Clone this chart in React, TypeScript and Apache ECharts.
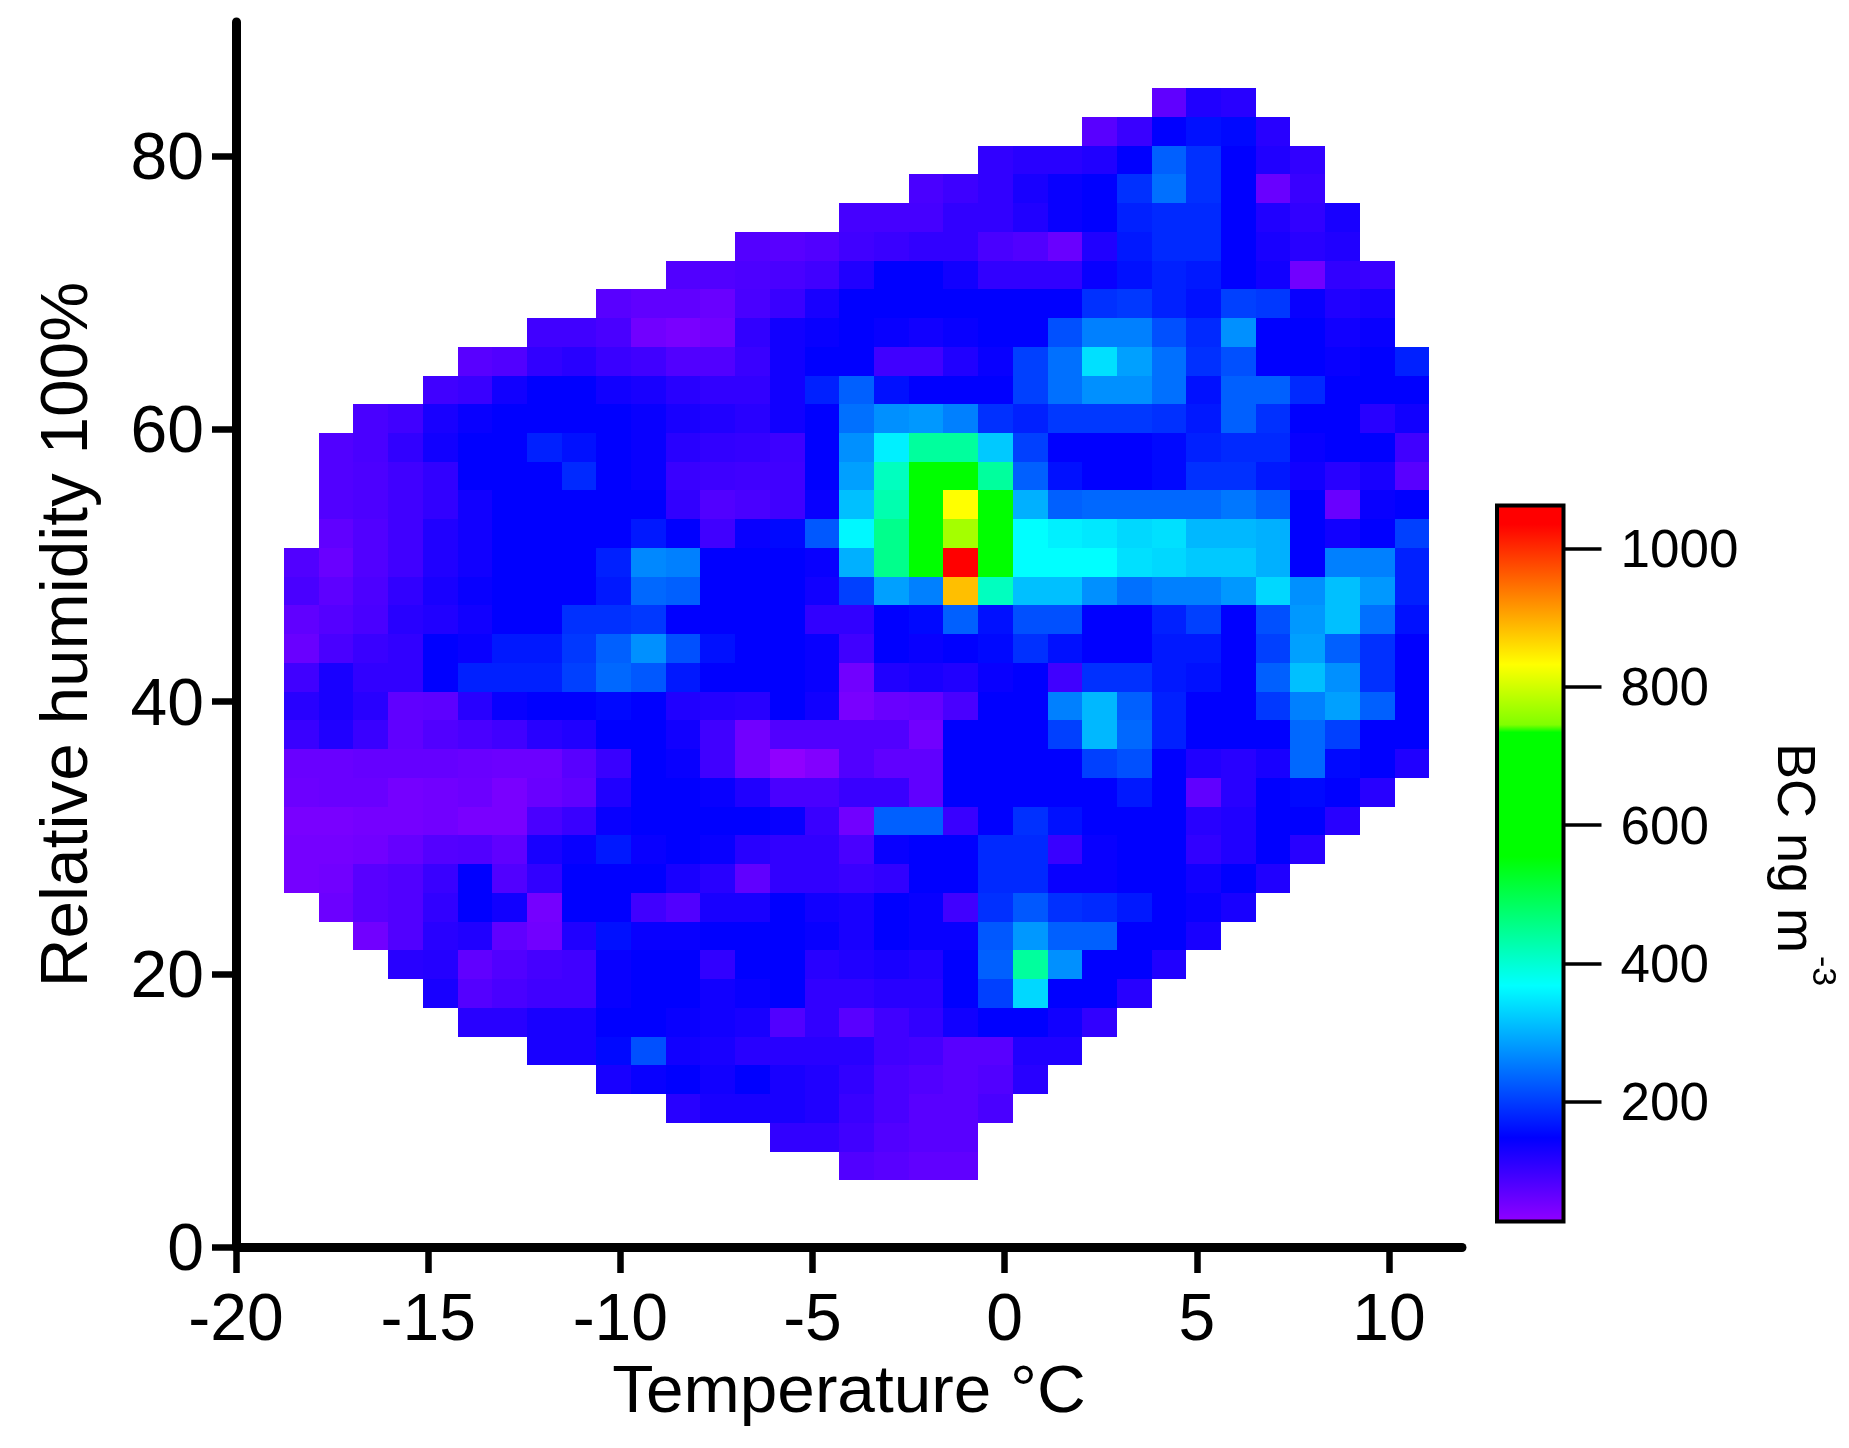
import React, { useEffect, useRef } from "react";
import * as echarts from "echarts";

// Tick values
const xTicks = [-20, -15, -10, -5, 0, 5, 10];
const yTicks = [0, 20, 40, 60, 80];
const barTicks = [200, 400, 600, 800, 1000];

// BC concentration per humidity row (top to bottom)
const row00 = [67, 121, 114];
const row01 = [74, 100, 148, 162, 155, 114];
const row02 = [107, 114, 114, 121, 148, 231, 189, 148, 121, 107];
const row03 = [87, 97, 107, 128, 141, 148, 189, 245, 189, 148, 60, 100];
const row04 = [90, 90, 90, 107, 107, 121, 141, 148, 176, 183, 183, 148, 121, 107, 128];
const row05 = [78, 74, 80, 94, 100, 107, 107, 87, 80, 60, 121, 169, 183, 183, 148, 128, 114, 121];
const row06 = [80, 80, 84, 87, 94, 121, 148, 148, 134, 107, 107, 107, 141, 162, 176, 169, 148, 134, 53, 107, 100];
const row07 = [74, 67, 67, 60, 87, 100, 128, 148, 148, 148, 148, 148, 148, 148, 189, 196, 176, 162, 203, 196, 141, 121, 128];
const row08 = [94, 94, 87, 53, 46, 53, 107, 134, 141, 148, 141, 134, 141, 148, 148, 217, 258, 258, 217, 183, 272, 148, 148, 134, 141];
const row09 = [74, 80, 107, 114, 100, 94, 80, 80, 100, 134, 148, 148, 94, 94, 121, 141, 203, 245, 341, 286, 245, 189, 217, 148, 148, 141, 148, 176];
const row10 = [94, 100, 134, 148, 148, 134, 128, 114, 107, 107, 134, 176, 231, 162, 148, 148, 148, 203, 245, 272, 272, 245, 162, 231, 231, 183, 148, 148, 148];
const row11 = [87, 94, 128, 141, 148, 148, 148, 148, 141, 128, 121, 114, 134, 148, 245, 272, 279, 258, 189, 176, 196, 196, 196, 189, 169, 231, 189, 148, 148, 114, 134];
const row12 = [80, 87, 107, 134, 148, 148, 176, 162, 148, 141, 114, 107, 104, 97, 148, 272, 355, 440, 440, 321, 203, 148, 148, 148, 155, 176, 183, 183, 141, 148, 148, 94];
const row13 = [80, 84, 94, 107, 148, 148, 148, 183, 148, 141, 100, 97, 94, 94, 148, 286, 415, 640, 640, 440, 231, 162, 148, 148, 155, 189, 189, 169, 134, 114, 128, 74];
const row14 = [80, 84, 94, 107, 134, 148, 148, 148, 148, 148, 107, 80, 87, 94, 141, 314, 427, 640, 832, 640, 300, 231, 238, 238, 238, 238, 251, 231, 148, 60, 141, 148];
const row15 = [67, 80, 94, 121, 134, 148, 148, 148, 148, 169, 148, 94, 141, 155, 224, 362, 452, 640, 770, 640, 368, 355, 348, 334, 341, 307, 307, 300, 148, 134, 148, 203];
const row16 = [80, 60, 80, 94, 121, 134, 148, 148, 148, 176, 265, 258, 148, 148, 148, 141, 300, 452, 640, 1040, 640, 368, 368, 368, 341, 334, 321, 321, 300, 148, 258, 258, 176];
const row17 = [87, 70, 84, 107, 128, 141, 148, 148, 148, 169, 238, 231, 148, 148, 148, 134, 203, 286, 258, 883, 415, 314, 314, 272, 245, 258, 258, 279, 334, 272, 314, 279, 176];
const row18 = [67, 77, 87, 114, 121, 134, 148, 148, 189, 189, 196, 148, 148, 148, 148, 107, 107, 148, 155, 231, 162, 217, 217, 148, 148, 176, 203, 148, 217, 279, 314, 245, 162];
const row19 = [60, 87, 100, 107, 148, 141, 169, 169, 196, 231, 272, 217, 162, 148, 148, 141, 94, 148, 141, 148, 155, 189, 162, 148, 148, 169, 169, 148, 203, 286, 231, 189, 148];
const row20 = [94, 128, 107, 107, 148, 176, 176, 176, 203, 238, 224, 169, 148, 148, 148, 141, 53, 121, 128, 121, 141, 148, 94, 189, 189, 169, 162, 148, 231, 314, 272, 189, 148];
const row21 = [114, 128, 114, 67, 70, 114, 141, 148, 148, 155, 148, 121, 118, 114, 148, 134, 46, 60, 63, 87, 148, 148, 258, 307, 231, 176, 148, 148, 196, 258, 286, 231, 148];
const row22 = [100, 121, 100, 67, 80, 87, 94, 114, 121, 148, 148, 134, 94, 53, 80, 80, 80, 80, 53, 148, 148, 148, 203, 307, 238, 176, 148, 148, 148, 238, 203, 148, 148];
const row23 = [60, 60, 63, 63, 63, 60, 57, 57, 74, 100, 148, 141, 94, 53, 26, 39, 80, 67, 67, 148, 148, 148, 148, 203, 217, 148, 121, 114, 128, 238, 155, 148, 121];
const row24 = [57, 60, 60, 50, 53, 57, 46, 60, 67, 121, 148, 148, 141, 121, 87, 87, 100, 100, 67, 148, 148, 148, 148, 148, 169, 148, 67, 114, 148, 155, 148, 114];
const row25 = [46, 46, 50, 50, 53, 46, 46, 87, 100, 141, 148, 148, 148, 148, 141, 100, 53, 231, 231, 100, 148, 189, 162, 148, 148, 148, 114, 121, 148, 148, 114];
const row26 = [50, 50, 53, 63, 77, 80, 67, 128, 141, 169, 141, 148, 141, 114, 107, 107, 87, 141, 148, 148, 183, 183, 100, 141, 148, 148, 107, 121, 148, 114];
const row27 = [50, 53, 74, 80, 100, 148, 80, 107, 148, 148, 148, 128, 114, 67, 107, 107, 100, 107, 148, 148, 183, 183, 141, 141, 148, 148, 134, 148, 121];
const row28 = [57, 74, 80, 107, 148, 134, 50, 148, 148, 94, 80, 128, 128, 148, 134, 128, 148, 141, 94, 189, 224, 189, 183, 169, 148, 141, 128];
const row29 = [53, 80, 114, 121, 67, 53, 121, 162, 141, 141, 148, 148, 148, 141, 128, 148, 141, 141, 224, 279, 231, 231, 148, 148, 128];
const row30 = [114, 118, 67, 80, 90, 94, 141, 148, 148, 107, 148, 148, 114, 121, 128, 121, 148, 231, 440, 272, 148, 148, 121];
const row31 = [128, 77, 87, 94, 94, 141, 148, 148, 134, 141, 148, 107, 107, 114, 114, 148, 203, 334, 148, 148, 114];
const row32 = [114, 114, 128, 128, 148, 148, 141, 134, 128, 80, 107, 74, 94, 107, 134, 148, 148, 134, 107];
const row33 = [128, 128, 155, 217, 134, 128, 114, 114, 114, 114, 94, 90, 74, 74, 121, 121];
const row34 = [128, 141, 148, 134, 148, 128, 121, 107, 87, 80, 74, 80, 114];
const row35 = [114, 128, 128, 128, 121, 100, 87, 74, 74, 87];
const row36 = [107, 107, 94, 80, 74, 74];
const row37 = [80, 74, 67, 67];

const rows = [
  row00, row01, row02, row03, row04, row05, row06, row07, row08, row09,
  row10, row11, row12, row13, row14, row15, row16, row17, row18, row19,
  row20, row21, row22, row23, row24, row25, row26, row27, row28, row29,
  row30, row31, row32, row33, row34, row35, row36, row37,
];
// Column at which each row begins
const rowStarts = [
  25, 23, 20, 18, 16, 13, 11, 9, 7, 5, 4, 2, 1, 1, 1, 1,
  0, 0, 0, 0, 0, 0, 0, 0, 0, 0, 0, 0,
  1, 2, 3, 4, 5, 7, 9, 11, 14, 16,
];

// Bin layout in data units
const binLeft = -18.75;
const binWidth = 0.903;
const binTop = 85.0;
const binHeight = 2.108;

// Colour scale: value, colour
const scaleStops: [number, number[]][] = [
  [27, [144, 0, 255]],
  [148, [0, 0, 255]],
  [368, [0, 255, 255]],
  [555, [0, 255, 0]],
  [734, [0, 255, 0]],
  [745, [128, 255, 0]],
  [832, [255, 255, 0]],
  [1035, [255, 0, 0]],
  [1062, [255, 0, 0]],
];
const scaleMin = 27;
const scaleMax = 1062;

function colorOf(v: number): string {
  for (let i = 1; i < scaleStops.length; i++) {
    const [v1, c1] = scaleStops[i];
    const [v0, c0] = scaleStops[i - 1];
    if (v <= v1) {
      const t = Math.max(0, (v - v0) / (v1 - v0));
      const c = c0.map((a, k) => Math.round(a + (c1[k] - a) * t));
      return `rgb(${c[0]},${c[1]},${c[2]})`;
    }
  }
  return "rgb(255,0,0)";
}

const FONT = '"Liberation Sans", Arial, Helvetica, sans-serif';
const INK = "#000000";

export default function App() {
  const ref = useRef<HTMLDivElement>(null);

  useEffect(() => {
    const chart = echarts.init(ref.current!, undefined, { renderer: "svg" });

    const cells: number[][] = [];
    rows.forEach((row, r) => {
      row.forEach((v, k) => {
        cells.push([
          binLeft + (rowStarts[r] + k) * binWidth,
          binTop - (r + 1) * binHeight,
          v,
        ]);
      });
    });

    const gradient = new echarts.graphic.LinearGradient(
      0, 0, 0, 1,
      scaleStops
        .slice()
        .reverse()
        .map(([v, c]) => ({
          offset: (scaleMax - v) / (scaleMax - scaleMin),
          color: `rgb(${c[0]},${c[1]},${c[2]})`,
        })),
    );

    chart.setOption({
      animation: false,
      backgroundColor: "#ffffff",
      grid: [
        { left: 236, top: 22, width: 1226, height: 1225 },
        { left: 1497, top: 505.5, width: 66.5, height: 716 },
      ],
      xAxis: [
        {
          type: "value",
          gridIndex: 0,
          min: -20,
          max: 11.9,
          name: "Temperature °C",
          nameLocation: "middle",
          nameGap: 105,
          nameTextStyle: { fontFamily: FONT, fontSize: 67.5, color: INK },
          splitLine: { show: false },
          axisLine: { show: true, onZero: false, lineStyle: { color: INK, width: 9 } },
          axisTick: { show: true, length: 26, customValues: xTicks, lineStyle: { color: INK, width: 6.5 } },
          axisLabel: { customValues: xTicks, margin: 37, fontFamily: FONT, fontSize: 66, color: INK },
        },
        { type: "value", gridIndex: 1, min: 0, max: 1, show: false },
      ],
      yAxis: [
        {
          type: "value",
          gridIndex: 0,
          min: 0,
          max: 89.85,
          name: "Relative humidity 100%",
          nameLocation: "middle",
          nameGap: 139,
          nameTextStyle: { fontFamily: FONT, fontSize: 67.5, color: INK },
          splitLine: { show: false },
          axisLine: { show: true, onZero: false, lineStyle: { color: INK, width: 9 } },
          axisTick: { show: true, length: 24, customValues: yTicks, lineStyle: { color: INK, width: 6.5 } },
          axisLabel: { customValues: yTicks, margin: 32, fontFamily: FONT, fontSize: 66, color: INK },
        },
        {
          type: "value",
          gridIndex: 1,
          position: "right",
          min: scaleMin,
          max: scaleMax,
          splitLine: { show: false },
          axisLine: { show: true, onZero: false, lineStyle: { color: INK, width: 3 } },
          axisTick: { show: true, length: 38, customValues: barTicks, lineStyle: { color: INK, width: 3.5 } },
          axisLabel: {
            show: true,
            customValues: barTicks,
            margin: 57,
            fontFamily: FONT,
            fontSize: 53,
            color: INK,
            formatter: (v: number) => String(v),
          },
        },
      ],
      series: [
        {
          type: "custom",
          xAxisIndex: 0,
          yAxisIndex: 0,
          coordinateSystem: "cartesian2d",
          encode: { x: 0, y: 1 },
          data: cells,
          renderItem: (_p: any, api: any) => {
            const x = api.value(0);
            const y = api.value(1);
            const a = api.coord([x, y + binHeight]);
            const b = api.coord([x + binWidth, y]);
            const x0 = Math.round(a[0]);
            const y0 = Math.round(a[1]);
            return {
              type: "rect",
              shape: { x: x0, y: y0, width: Math.round(b[0]) - x0, height: Math.round(b[1]) - y0 },
              style: { fill: colorOf(api.value(2)) },
            };
          },
        },
        {
          type: "custom",
          xAxisIndex: 1,
          yAxisIndex: 1,
          coordinateSystem: "cartesian2d",
          encode: { x: 0, y: 1 },
          data: [[0, scaleMax]],
          renderItem: (_p: any, api: any) => {
            const a = api.coord([0, scaleMax]);
            const b = api.coord([1, scaleMin]);
            return {
              type: "rect",
              shape: { x: a[0], y: a[1], width: b[0] - a[0], height: b[1] - a[1] },
              style: { fill: gradient, stroke: INK, lineWidth: 4 },
            };
          },
        },
      ],
      graphic: [
        {
          type: "text",
          x: 1797,
          y: 848,
          rotation: -Math.PI / 2,
          style: {
            text: "BC ng m",
            font: `54px ${FONT}`,
            fill: INK,
            textAlign: "center",
            textVerticalAlign: "middle",
          },
        },
        {
          type: "text",
          x: 1825,
          y: 971,
          rotation: -Math.PI / 2,
          style: {
            text: "-3",
            font: `34px ${FONT}`,
            fill: INK,
            textAlign: "center",
            textVerticalAlign: "middle",
          },
        },
      ],
    });

    return () => chart.dispose();
  }, []);

  return (
    <div
      ref={ref}
      style={{ position: "absolute", left: 0, top: 0, width: 1849, height: 1448, filter: "blur(0.7px)" }}
    />
  );
}
